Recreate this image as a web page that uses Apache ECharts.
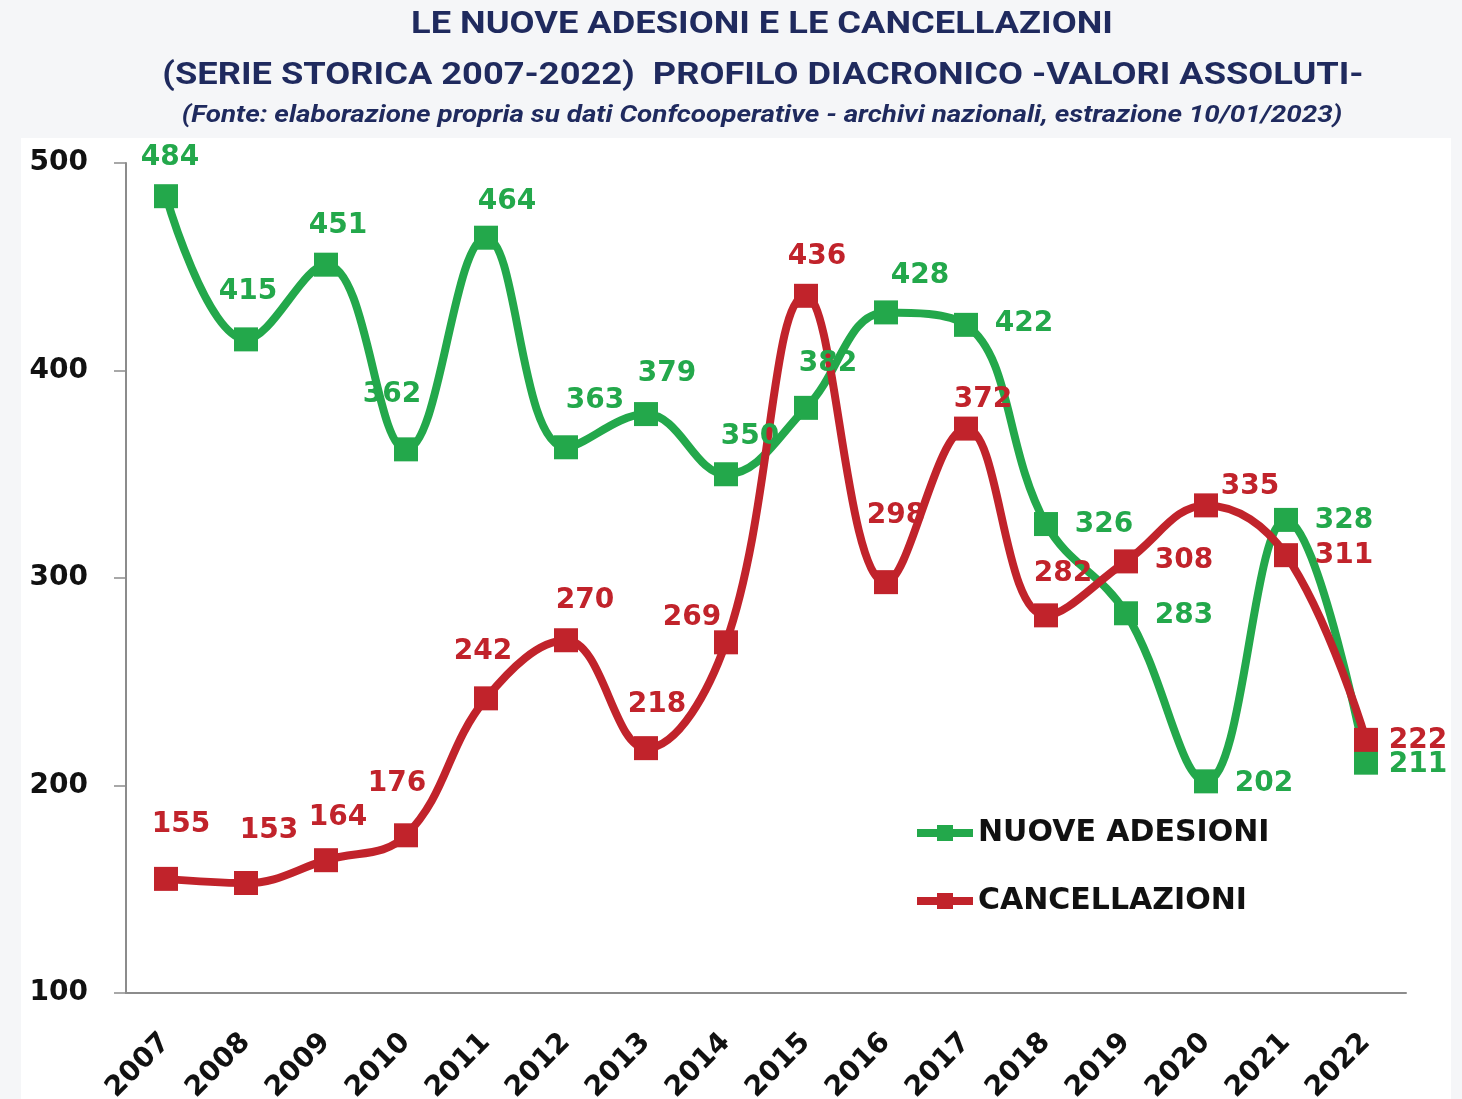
<!DOCTYPE html>
<html>
<head>
<meta charset="utf-8">
<script src="https://cdn.jsdelivr.net/npm/echarts@6/dist/echarts.min.js"></script>
<style>
html, body { margin: 0; padding: 0; background: #f5f6f8; }
#main { width: 1462px; height: 1099px; }
</style>
</head>
<body>
<div id="main"></div>
<script>
var years = ['2007', '2008', '2009', '2010', '2011', '2012', '2013', '2014',
    '2015', '2016', '2017', '2018', '2019', '2020', '2021', '2022'];
var nuoveAdesioni = [484, 415, 451, 362, 464, 363, 379, 350, 382, 428, 422, 326, 283, 202, 328, 211];
var cancellazioni = [155, 153, 164, 176, 242, 270, 218, 269, 436, 298, 372, 282, 308, 335, 311, 222];

// where each value label sits, relative to its marker
var greenLabelShift = [[4, -38], [2, -48], [12, -39], [-14, -55], [21, -36], [29, -47], [21, -40], [24, -38],
    [22, -44], [34, -37], [58, -1], [58, 1], [58, 2], [58, 2], [58, 1], [52, 2]];
var redLabelShift = [[15, -54], [23, -52], [12, -42], [-9, -52], [-3, -47], [19, -40], [11, -43], [-34, -25],
    [11, -39], [10, -66], [17, -29], [17, -42], [58, -1], [44, -19], [58, 1], [52, 1]];

var GREEN = '#23a84b';
var RED = '#c1232b';
var NAVY = '#1f2a5e';

function withLabels(values, shifts) {
    var out = [];
    for (var i = 0; i < values.length; i++) {
        out.push({
            value: values[i],
            label: { offset: shifts[i] }
        });
    }
    return out;
}

var chart = echarts.init(document.getElementById('main'));

var labelFont = {
    show: true,
    position: 'inside',
    fontFamily: 'DejaVu Sans',
    fontWeight: 'bold',
    fontSize: 28
};

var option = {
    backgroundColor: '#f5f6f8',
    animation: false,
    graphic: [
        {
            type: 'rect', z: -10,
            shape: { x: 21, y: 138, width: 1430, height: 961 },
            style: { fill: '#ffffff' }
        },
        {
            type: 'text', x: 762, y: 25, scaleX: 1.17,
            style: {
                text: 'LE NUOVE ADESIONI E LE CANCELLAZIONI',
                align: 'center', verticalAlign: 'middle',
                font: 'bold 31px Roboto', fill: NAVY
            }
        },
        {
            type: 'text', x: 763, y: 76, scaleX: 1.17,
            style: {
                text: '(SERIE STORICA 2007-2022)  PROFILO DIACRONICO -VALORI ASSOLUTI-',
                align: 'center', verticalAlign: 'middle',
                font: 'bold 31px Roboto', fill: NAVY
            }
        },
        {
            type: 'text', x: 762, y: 116, scaleX: 1.21,
            style: {
                text: '(Fonte: elaborazione propria su dati Confcooperative - archivi nazionali, estrazione 10/01/2023)',
                align: 'center', verticalAlign: 'middle',
                font: 'italic bold 23px Roboto', fill: NAVY
            }
        }
    ],
    legend: {
        orient: 'vertical',
        left: 908,
        top: 813,
        itemWidth: 56,
        itemHeight: 20,
        itemGap: 38,
        lineStyle: { width: 8 },
        textStyle: {
            fontFamily: 'DejaVu Sans',
            fontWeight: 'bold',
            fontSize: 30,
            color: '#111'
        },
        data: ['NUOVE ADESIONI', 'CANCELLAZIONI']
    },
    grid: {
        left: 126,
        right: 56,
        top: 163,
        bottom: 106,
        outerBoundsMode: 'none'
    },
    xAxis: {
        type: 'category',
        data: years,
        axisLine: { lineStyle: { color: '#8c8c8c', width: 2 } },
        axisTick: { length: 10, lineStyle: { color: '#8c8c8c', width: 1.5 } },
        axisLabel: {
            rotate: 45,
            margin: 45,
            color: '#111',
            fontFamily: 'DejaVu Sans',
            fontWeight: 'bold',
            fontSize: 28
        }
    },
    yAxis: {
        type: 'value',
        min: 100,
        max: 500,
        interval: 100,
        splitLine: { show: false },
        axisLine: { show: true, lineStyle: { color: '#8c8c8c', width: 2 } },
        axisTick: { show: true, length: 12, lineStyle: { color: '#8c8c8c', width: 1.5 } },
        axisLabel: {
            margin: 38,
            color: '#111',
            fontFamily: 'DejaVu Sans',
            fontWeight: 'bold',
            fontSize: 28
        }
    },
    series: [
        {
            name: 'NUOVE ADESIONI',
            type: 'line',
            smooth: 0.4,
            symbol: 'rect',
            symbolSize: 24,
            lineStyle: { color: GREEN, width: 8 },
            itemStyle: { color: GREEN },
            label: Object.assign({ color: GREEN }, labelFont),
            data: withLabels(nuoveAdesioni, greenLabelShift)
        },
        {
            name: 'CANCELLAZIONI',
            type: 'line',
            smooth: 0.4,
            symbol: 'rect',
            symbolSize: 24,
            lineStyle: { color: RED, width: 8 },
            itemStyle: { color: RED },
            label: Object.assign({ color: RED }, labelFont),
            data: withLabels(cancellazioni, redLabelShift)
        }
    ]
};

chart.setOption(option);
</script>
</body>
</html>
